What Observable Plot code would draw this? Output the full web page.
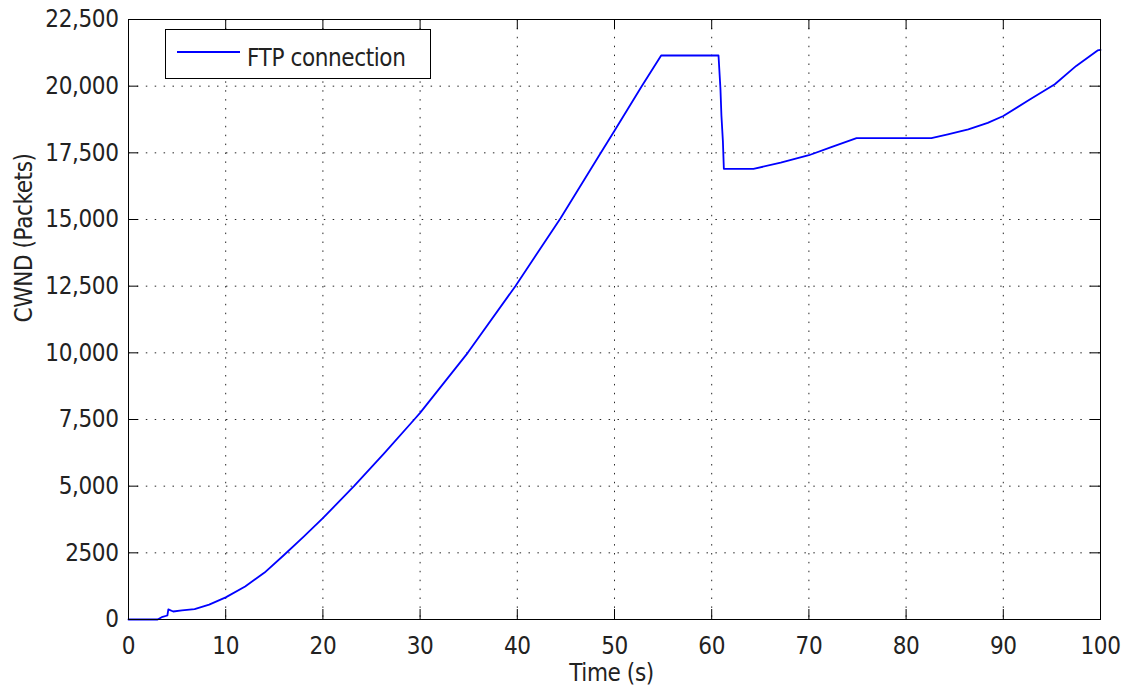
<!DOCTYPE html>
<html><head><meta charset="utf-8">
<script src="https://cdn.jsdelivr.net/npm/d3@7"></script>
<script src="https://cdn.jsdelivr.net/npm/@observablehq/plot@0.6"></script>
<style>
body{margin:0;background:#fff;}
#chart{position:relative;width:1129px;height:700px;}
#chart svg text{letter-spacing:-0.4px;}
</style></head><body><div id="chart"></div>
<script>
// ---- data ----
const timeS = [0,3.0,3.5,4.0,4.1,4.6,5.5,6.8,8.3,10,12,14,16,18,20,23.2,26.3,29.4,30,34.9,39.8,44.45,48.5,50,52.8,54.8,60.7,60.9,61.0,61.15,61.25,64.3,67.1,70,72.3,74.9,82.6,84.3,86.4,88.4,90,92.6,95.3,97.5,99.7,100];
const cwnd  = [0,0,100,150,380,300,340,390,560,830,1240,1760,2420,3100,3800,5000,6230,7500,7750,10000,12500,15050,17450,18330,20000,21150,21150,19900,18900,17950,16900,16900,17130,17410,17715,18050,18050,18190,18380,18625,18880,19470,20070,20760,21340,21360];
const xTicks = [0,10,20,30,40,50,60,70,80,90,100];
const yTicks = [0,2500,5000,7500,10000,12500,15000,17500,20000,22500];
const yTickLabels = ["0","2500","5,000","7,500","10,000","12,500","15,000","17,500","20,000","22,500"];
const seriesName = "FTP connection";
const xTitle = "Time (s)";
const yTitle = "CWND (Packets)";

const data = timeS.map((t, i) => ({t, v: cwnd[i]}));

const W = 1129, H = 700, mL = 128, mR = 29, mT = 19, mB = 81;
const pw = W - mL - mR, ph = H - mT - mB, tick = 10;
const font = '"DejaVu Sans Condensed","Liberation Sans Narrow","Arial Narrow",sans-serif';
const fs = 24;
const gridStyle = {stroke: "#000", strokeOpacity: 0.85, strokeDasharray: "1.5,7.4"};

const chart = Plot.plot({
  width: W, height: H,
  marginLeft: mL, marginRight: mR, marginTop: mT, marginBottom: mB,
  style: {fontFamily: font, fontSize: fs + "px", background: "#fff", color: "#222"},
  x: {domain: [0, 100]},
  y: {domain: [0, 22500]},
  marks: [
    Plot.gridX(xTicks.slice(1, -1), gridStyle),
    Plot.gridY(yTicks.slice(1, -1), gridStyle),
    Plot.line(data, {x: "t", y: "v", stroke: "#0000ff", strokeWidth: 1.8}),
    Plot.ruleX(xTicks, {insetTop: ph - tick, stroke: "#000"}),
    Plot.ruleX(xTicks, {insetBottom: ph - tick, stroke: "#000"}),
    Plot.ruleY(yTicks, {insetRight: pw - tick, stroke: "#000"}),
    Plot.ruleY(yTicks, {insetLeft: pw - tick, stroke: "#000"}),
    Plot.frame({stroke: "#000"}),
    Plot.axisX(xTicks, {tickSize: 0, tickPadding: 17, fontSize: fs, label: null}),
    Plot.axisY(yTicks, {tickSize: 0, tickPadding: 10, fontSize: fs, label: null,
      tickFormat: d => yTickLabels[yTicks.indexOf(d)]}),
    Plot.text([xTitle], {frameAnchor: "bottom", dy: 61.3, dx: -3, fontSize: fs, fill: "#222"}),
    Plot.text([yTitle], {frameAnchor: "left", rotate: -90, dx: -103.7, dy: 3, fontSize: fs, fill: "#222"})
  ]
});
document.getElementById("chart").appendChild(chart);

// legend box (MATLAB style)
const svg = d3.select(chart);
const lg = svg.append("g").attr("font-family", font).attr("font-size", fs).attr("text-anchor", "start");
lg.append("rect").attr("x", 165.5).attr("y", 29.5).attr("width", 265).attr("height", 49)
  .attr("fill", "#fff").attr("stroke", "#000");
lg.append("line").attr("x1", 177).attr("x2", 240).attr("y1", 52).attr("y2", 52)
  .attr("stroke", "#0000ff").attr("stroke-width", 1.8);
lg.append("text").attr("x", 247).attr("y", 66).attr("fill", "#222").text(seriesName);
</script>
</body></html>
